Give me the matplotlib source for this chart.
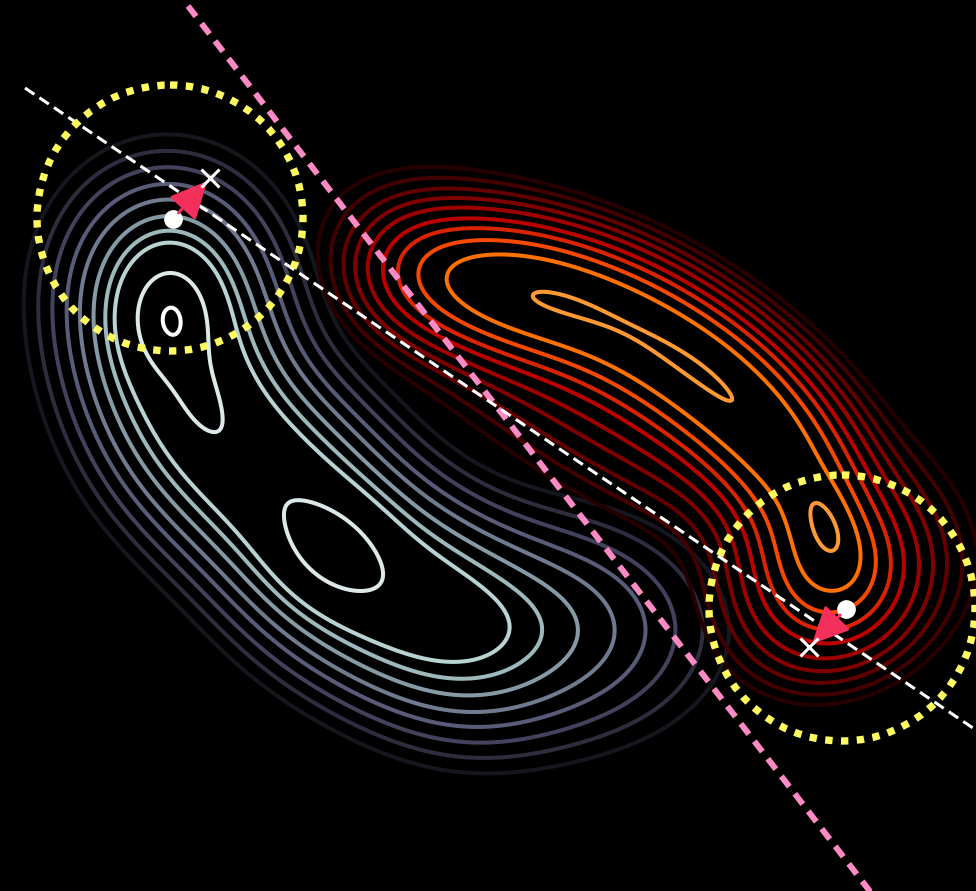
import numpy as np
import matplotlib
matplotlib.use("Agg")
import matplotlib.pyplot as plt
from matplotlib.patches import Circle, FancyArrowPatch

W, H = 976, 891

# ---- density model: Gaussian mixture components (canvas units, y downward)
# centre x, centre y, sigma along axis, sigma across axis, axis angle (deg), weight
left_cx = [166, 168, 172, 185, 205, 240, 280, 312, 345, 390, 435, 480,
           170, 198, 333, 540]
left_cy = [245, 278, 328, 376, 422, 458, 490, 528, 565, 590, 615, 638,
           315, 392, 551, 630]
left_sa = [55] * 12 + [35, 35, 40, 83]
left_sb = [55] * 12 + [26, 18, 32, 57]
left_ang = [0] * 12 + [90, 70, 38, 0]
left_w = [0.08] + [0.38] * 9 + [0.31, 0.20] + [0.82, 0.22, 0.40, 0.32]

right_cx = [400, 430, 460, 490, 520, 550, 580, 610, 638, 665, 690, 714, 737,
            758, 777, 794, 808, 819, 826, 832,
            826, 630, 830]
right_cy = [266, 272, 278, 284, 290, 297, 305, 316, 329, 345, 362, 380, 400,
            421, 443, 467, 493, 520, 548, 575,
            525, 378, 590]
right_sa = [40] * 20 + [30, 200, 60]
right_sb = [40] * 20 + [15, 78, 70]
right_ang = [0] * 20 + [68, 30, 60]
right_w = ([0.10, 0.15, 0.19, 0.24, 0.26, 0.265, 0.26, 0.25]
           + [0.25] * 5
           + [0.235, 0.215, 0.205, 0.18, 0.12, 0.15, 0.22]
           + [0.28, 0.22, 0.30])

# contour levels (outermost -> innermost)
left_levels = [0.024, 0.047, 0.085, 0.145, 0.225, 0.34, 0.476, 0.62, 1.15, 1.745]
right_levels = [0.06, 0.081, 0.112, 0.151, 0.205, 0.285, 0.376, 0.507, 0.679, 0.993]

# overlay geometry
circle_cx = [170, 842]
circle_cy = [218, 608]
circle_r = [133, 133]
dot_x = [173, 846]
dot_y = [219, 609]
cross_x = [210, 809]
cross_y = [178, 647]
white_line_x = [25, 990]
white_line_y = [88, 739.5]
pink_line_x = [188, 872]
pink_line_y = [6, 894]


def mixture(X, Y, cx, cy, sa, sb, ang, w):
    Z = np.zeros_like(X, dtype=float)
    for x0, y0, a, b, t, wt in zip(cx, cy, sa, sb, ang, w):
        th = np.deg2rad(t)
        dx, dy = X - x0, Y - y0
        u = dx * np.cos(th) + dy * np.sin(th)
        v = -dx * np.sin(th) + dy * np.cos(th)
        Z = Z + wt * np.exp(-0.5 * ((u / a) ** 2 + (v / b) ** 2))
    return Z


gx = np.arange(0, W + 2, 2.0)
gy = np.arange(0, H + 2, 2.0)
GX, GY = np.meshgrid(gx, gy)

ZL = mixture(GX, GY, left_cx, left_cy, left_sa, left_sb, left_ang, left_w)
ZR = mixture(GX, GY, right_cx, right_cy, right_sa, right_sb, right_ang, right_w)

col_L = plt.get_cmap("bone")(np.linspace(0.1, 1.0, len(left_levels)))
col_R = plt.get_cmap("gist_heat")(np.linspace(0.1, 0.8, len(right_levels)))

fig = plt.figure(figsize=(W / 100, H / 100), dpi=100, facecolor="black")
ax = fig.add_axes([0, 0, 1, 1])
ax.set_facecolor("black")
ax.set_xlim(0, W)
ax.set_ylim(H, 0)
ax.axis("off")

ax.contour(GX, GY, ZL, levels=left_levels, colors=col_L, linewidths=2.9, zorder=1)
ax.contour(GX, GY, ZR, levels=right_levels, colors=col_R, linewidths=2.9, zorder=1)

ax.plot(pink_line_x, pink_line_y, color="#fc8ac5", lw=4.3,
        ls=(0, (2.2, 1.5)), zorder=2, solid_capstyle="butt")
ax.plot(white_line_x, white_line_y, color="white", lw=2.2,
        ls=(0, (3.7, 2.0)), zorder=3)

for cx, cy, r in zip(circle_cx, circle_cy, circle_r):
    ax.add_patch(Circle((cx, cy), r, fill=False, ec="#fffb60", lw=5.3,
                        ls=(0, (1, 1.15)), zorder=4))

ax.plot(dot_x, dot_y, "o", color="white", ms=13.5, mec="none", zorder=5)

for x0, y0, x1, y1 in zip(dot_x, dot_y, cross_x, cross_y):
    ax.add_patch(FancyArrowPatch((x0, y0), (x1, y1),
                                 arrowstyle="-|>,head_length=1.15,head_width=0.55",
                                 mutation_scale=20, color="#f42f5c", lw=2.2,
                                 shrinkA=6, shrinkB=3, zorder=6))

ax.plot(cross_x, cross_y, "x", color="white", ms=13, mew=2.2, zorder=7)

fig.savefig("out.png", dpi=100, facecolor="black")
